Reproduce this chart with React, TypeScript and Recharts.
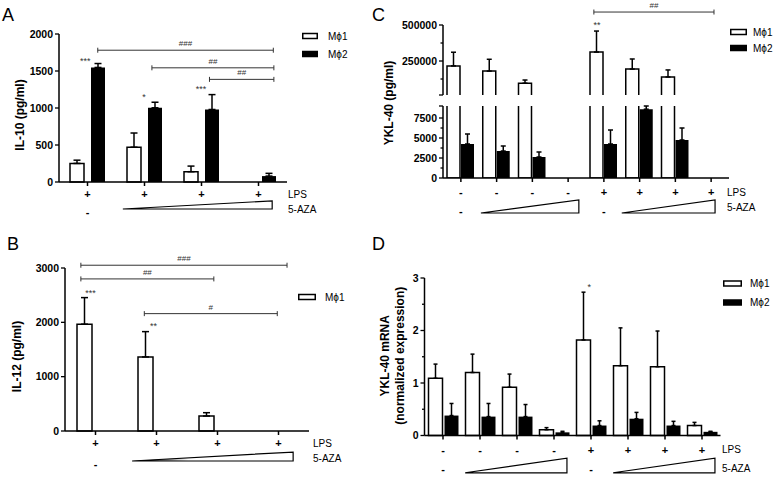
import React from 'react';
import {
  BarChart,
  Bar,
  XAxis,
  YAxis,
  ErrorBar,
  Legend,
  ReferenceLine,
  ReferenceDot,
  ReferenceArea,
} from 'recharts';

const FONT = '"Liberation Sans", Arial, Helvetica, sans-serif';
const AXIS = { stroke: '#000', strokeWidth: 1.5 };

// ---------- A: IL-10 (pg/ml) ----------
const groupsA = ['a1', 'a2', 'a3', 'a4'];
const lpsA = ['+', '+', '+', '+'];
const azaA = ['-', '', '', ''];
const il10Mphi1 = [251, 470, 139, null];
const il10Mphi1Sem = [44, 192, 76, null];
const il10Mphi2 = [1548, 1003, 980, 80];
const il10Mphi2Sem = [53, 75, 201, 37];
const il10Ticks = [0, 500, 1000, 1500, 2000];
const il10Brackets = [
  { from: 0.68, to: 3.76, y: 1781, text: '###' },
  { from: 1.63, to: 3.77, y: 1543, text: '##' },
  { from: 2.64, to: 3.77, y: 1387, text: '##' },
];
const il10Stars = [
  { x: 0.46, y: 1664, text: '***' },
  { x: 1.49, y: 1181, text: '*' },
  { x: 2.49, y: 1289, text: '***' },
];
const il10Wedges = [{ from: 1.12, to: 3.74, low: -365, high: -255 }];

// ---------- B: IL-12 (pg/ml) ----------
const groupsB = ['b1', 'b2', 'b3', 'b4'];
const lpsB = ['+', '+', '+', '+'];
const azaB = ['-', '', '', ''];
const il12Mphi1 = [1966, 1363, 276, null];
const il12Mphi1Sem = [489, 466, 61, null];
const il12Ticks = [0, 1000, 2000, 3000];
const il12Brackets = [
  { from: 0.26, to: 3.64, y: 3051, text: '###' },
  { from: 0.26, to: 2.44, y: 2799, text: '##' },
  { from: 1.3, to: 3.48, y: 2160, text: '#' },
];
const il12Stars = [
  { x: 0.42, y: 2584, text: '***' },
  { x: 1.45, y: 1966, text: '**' },
];
const il12Wedges = [{ from: 1.1, to: 3.74, low: -552, high: -387 }];

// ---------- C: YKL-40 (pg/ml), broken axis ----------
const groupsC = ['c1', 'c2', 'c3', 'c4', 'c5', 'c6', 'c7', 'c8'];
const lpsC = ['-', '-', '-', '-', '+', '+', '+', '+'];
const azaC = ['-', '', '', '', '-', '', '', ''];
const yklMphi1 = [216000, 180000, 96000, null, 312000, 194000, 139000, null];
const yklMphi1Sem = [95000, 82000, 22000, null, 146000, 70000, 49000, null];
const yklMphi2 = [4250, 3375, 2625, null, 4250, 8600, 4750, null];
const yklMphi2Sem = [1250, 625, 625, null, 1750, 400, 1500, null];
const yklUpperTicks = [14000, 125000, 250000, 375000, 500000];
const yklUpperLabeled = [250000, 500000];
const yklUpperMinor = [125000, 375000];
const yklLowerTicks = [0, 1250, 2500, 3750, 5000, 6250, 7500, 9000];
const yklLowerLabeled = [0, 2500, 5000, 7500];
const yklLowerMinor = [1250, 3750, 6250];
const yklBrackets = [{ from: 4.22, to: 7.58, y: 590000, text: '##' }];
const yklStars = [{ x: 4.31, y: 514000, text: '**' }];
const yklWedges = [
  { from: 1.06, to: 3.8, low: -4375, high: -2750 },
  { from: 5.0, to: 7.61, low: -4375, high: -2750 },
];

// ---------- D: YKL-40 mRNA ----------
const groupsD = ['d1', 'd2', 'd3', 'd4', 'd5', 'd6', 'd7', 'd8'];
const lpsD = ['-', '-', '-', '-', '+', '+', '+', '+'];
const azaD = ['-', '', '', '', '-', '', '', ''];
const mrnaMphi1 = [1.09, 1.2, 0.92, 0.11, 1.82, 1.33, 1.31, 0.19];
const mrnaMphi1Sem = [0.27, 0.35, 0.25, 0.04, 0.91, 0.72, 0.68, 0.06];
const mrnaMphi2 = [0.38, 0.36, 0.36, 0.06, 0.19, 0.32, 0.19, 0.07];
const mrnaMphi2Sem = [0.23, 0.25, 0.23, 0.02, 0.09, 0.12, 0.08, 0.01];
const mrnaTicks = [0, 0.5, 1, 1.5, 2, 2.5, 3];
const mrnaLabeled = [0, 1, 2, 3];
const mrnaMinor = [0.5, 1.5, 2.5];
const mrnaStars = [{ x: 4.45, y: 2.87, text: '*' }];
const mrnaWedges = [
  { from: 1.1, to: 3.85, low: -0.71, high: -0.43 },
  { from: 5.1, to: 7.85, low: -0.71, high: -0.43 },
];

type Num = number | null;

// pos = centre of each group on the hidden numeric axis used for annotations
function rows(groups: string[], m1: Num[], m1Sem: Num[] | null, m2: Num[] | null, m2Sem: Num[] | null) {
  return groups.map((g, i) => ({
    g,
    pos: i + 0.5,
    m1: m1[i],
    m1Err: m1Sem && m1Sem[i] != null ? [0, m1Sem[i]] : null,
    m2: m2 ? m2[i] : null,
    m2Err: m2Sem && m2Sem[i] != null ? [0, m2Sem[i]] : null,
  }));
}

// y tick: own tick line (minor ticks shorter), bold label on majors
function ValueTick(props: any) {
  const { x, y, payload, labeled, minor } = props;
  const v = payload.value;
  const ax = x + 6; // tickSize 4 + tickMargin 2
  const len = minor.includes(v) ? 2.5 : 4;
  return (
    <g>
      <line x1={ax - len} x2={ax} y1={y} y2={y} stroke="#000" strokeWidth={1.3} />
      {labeled.includes(v) && (
        <text x={x} y={y} dy={3.8} textAnchor="end" fontFamily={FONT} fontSize={10.5} fontWeight="bold" fill="#000">
          {String(v)}
        </text>
      )}
    </g>
  );
}

// x tick: LPS row and 5-AZA row signs
function SignTick(props: any) {
  const { x, y, index, lps, aza, r1, r2 } = props;
  const axisY = y - 4;
  return (
    <g fontFamily={FONT} fontSize={11} fontWeight="bold" fill="#000" textAnchor="middle">
      <text x={x} y={axisY + r1 + 4}>{lps[index]}</text>
      {aza[index] ? <text x={x} y={axisY + r2 + 4}>{aza[index]}</text> : null}
    </g>
  );
}

function RowLabels(props: any) {
  const { viewBox, dx, r1, r2 } = props;
  const x0 = viewBox.x + viewBox.width + dx;
  return (
    <g fontFamily={FONT} fontSize={10} fill="#000">
      <text x={x0} y={viewBox.y + r1 + 3.5}>LPS</text>
      <text x={x0} y={viewBox.y + r2 + 3.5}>5-AZA</text>
    </g>
  );
}

function YTitle(props: any) {
  const { viewBox, lines, xs, dy } = props;
  const cy = viewBox.y + viewBox.height / 2 + dy;
  return (
    <g>
      {lines.map((t: string, i: number) => {
        const cx = viewBox.x + xs[i];
        return (
          <text
            key={t}
            x={cx}
            y={cy}
            transform={`rotate(-90 ${cx} ${cy})`}
            textAnchor="middle"
            dominantBaseline="central"
            fontFamily={FONT}
            fontSize={12}
            fontWeight="bold"
            fill="#000"
          >
            {t}
          </text>
        );
      })}
    </g>
  );
}

// legend drawn as a small svg: open box for Mϕ1, filled box for Mϕ2
function LegendBoxes(props: any) {
  const { payload, boxW, gap, rowH } = props;
  const items = (payload || []).filter((p: any) => p.type !== 'none');
  return (
    <svg width={boxW + gap + 30} height={rowH * items.length} style={{ display: 'block' }}>
      {items.map((p: any, i: number) => {
        const cy = rowH * i + rowH / 2;
        return (
          <g key={p.value}>
            <rect x={0.75} y={cy - 2.5} width={boxW - 1.5} height={5} fill={p.color} stroke="#000" strokeWidth={1.5} />
            <text x={boxW + gap} y={cy + 3.6} fontFamily={FONT} fontSize={10} fill="#000">
              {p.value}
            </text>
          </g>
        );
      })}
    </svg>
  );
}

function legend(left: number, top: number, boxW: number, gap: number, rowH: number) {
  return (
    <Legend
      layout="vertical"
      align="center"
      verticalAlign="middle"
      wrapperStyle={{ left, top, width: 'auto', lineHeight: 0 }}
      content={<LegendBoxes boxW={boxW} gap={gap} rowH={rowH} />}
    />
  );
}

function BracketShape(p: any) {
  const { x1, y1, x2, y2 } = p;
  return (
    <path
      d={`M${x1},${y1 - 2.5}V${y1 + 2.5}M${x1},${y1}H${x2}M${x2},${y2 - 2.5}V${y2 + 2.5}`}
      stroke="#333"
      strokeWidth={1}
      fill="none"
    />
  );
}

const starShape = (text: string) => (p: any) => (
  <text x={p.cx} y={p.cy} dy={5} textAnchor="middle" fontFamily={FONT} fontSize={9} fill="#333">
    {text}
  </text>
);

const wedgeShape = (gradId?: string) => (p: any) => {
  const { x, y, width, height } = p;
  return (
    <g>
      {gradId && (
        <defs>
          <linearGradient id={gradId} x1="0" x2="1" y1="0" y2="0">
            <stop offset="0" stopColor="#000" />
            <stop offset="0.35" stopColor="#fff" />
          </linearGradient>
        </defs>
      )}
      <path
        d={`M${x},${y + height}L${x + width},${y}L${x + width},${y + height}Z`}
        fill={gradId ? `url(#${gradId})` : '#fff'}
        stroke="#000"
        strokeWidth={1.2}
      />
    </g>
  );
};

function marks(brackets: any[], stars: any[], wedges: any[], gradId?: string) {
  return [
    ...brackets.map((b, i) => (
      <ReferenceLine
        key={`br-${i}`}
        xAxisId="n"
        segment={[
          { x: b.from, y: b.y },
          { x: b.to, y: b.y },
        ]}
        ifOverflow="visible"
        shape={BracketShape}
        label={{ value: b.text, position: 'top', offset: 4, fontSize: 8, fill: '#333', fontFamily: FONT }}
      />
    )),
    ...stars.map((s, i) => (
      <ReferenceDot key={`st-${i}`} xAxisId="n" x={s.x} y={s.y} r={0} ifOverflow="visible" shape={starShape(s.text)} />
    )),
    ...wedges.map((w, i) => (
      <ReferenceArea
        key={`wd-${i}`}
        xAxisId="n"
        x1={w.from}
        x2={w.to}
        y1={w.low}
        y2={w.high}
        ifOverflow="visible"
        shape={wedgeShape(gradId ? `${gradId}-${i}` : undefined)}
      />
    )),
  ];
}

function numAxis(n: number) {
  return <XAxis xAxisId="n" dataKey="pos" type="number" domain={[0, n]} allowDataOverflow hide />;
}

function PanelA() {
  const data = rows(groupsA, il10Mphi1, il10Mphi1Sem, il10Mphi2, il10Mphi2Sem);
  return (
    <div style={{ position: 'absolute', left: 0, top: 0 }}>
      <BarChart width={390} height={230} data={data} margin={{ top: 34, right: 103, bottom: 18, left: 0 }} barSize={14} barGap={7}>
        <XAxis
          dataKey="g"
          interval={0}
          height={30}
          tickSize={4}
          tickMargin={0}
          axisLine={AXIS}
          tickLine={AXIS}
          tick={(p: any) => <SignTick {...p} lps={lpsA} aza={azaA} r1={12} r2={30} />}
          label={<RowLabels dx={1} r1={12} r2={27} />}
        />
        {numAxis(4)}
        <YAxis
          width={59}
          domain={[0, 2000]}
          ticks={il10Ticks}
          interval={0}
          tickSize={4}
          tickMargin={2}
          axisLine={AXIS}
          tickLine={false}
          tick={(p: any) => <ValueTick {...p} labeled={il10Ticks} minor={[]} />}
          label={<YTitle lines={['IL-10 (pg/ml)']} xs={[20]} dy={7} />}
        />
        <Bar dataKey="m1" name="Mϕ1" fill="#fff" stroke="#000" strokeWidth={1.5} isAnimationActive={false}>
          <ErrorBar dataKey="m1Err" width={3.5} stroke="#000" strokeWidth={1.5} />
        </Bar>
        <Bar dataKey="m2" name="Mϕ2" fill="#000" isAnimationActive={false}>
          <ErrorBar dataKey="m2Err" width={3.5} stroke="#000" strokeWidth={1.5} />
        </Bar>
        {legend(302, 27, 16, 10, 18)}
        {marks(il10Brackets, il10Stars, il10Wedges)}
      </BarChart>
    </div>
  );
}

function PanelB() {
  const data = rows(groupsB, il12Mphi1, il12Mphi1Sem, null, null);
  return (
    <div style={{ position: 'absolute', left: 0, top: 240 }}>
      <BarChart width={390} height={237} data={data} margin={{ top: 28, right: 81, bottom: 16, left: 0 }} barSize={15} barGap={7}>
        <XAxis
          dataKey="g"
          interval={0}
          height={30}
          tickSize={4}
          tickMargin={0}
          axisLine={AXIS}
          tickLine={AXIS}
          tick={(p: any) => <SignTick {...p} lps={lpsB} aza={azaB} r1={12} r2={33} />}
          label={<RowLabels dx={4} r1={12} r2={27} />}
        />
        {numAxis(4)}
        <YAxis
          width={65}
          domain={[0, 3000]}
          ticks={il12Ticks}
          interval={0}
          tickSize={4}
          tickMargin={2}
          axisLine={AXIS}
          tickLine={false}
          tick={(p: any) => <ValueTick {...p} labeled={il12Ticks} minor={[]} />}
          label={<YTitle lines={['IL-12 (pg/ml)']} xs={[17]} dy={7} />}
        />
        <Bar dataKey="m1" name="Mϕ1" fill="#fff" stroke="#000" strokeWidth={1.5} isAnimationActive={false}>
          <ErrorBar dataKey="m1Err" width={3.5} stroke="#000" strokeWidth={1.5} />
        </Bar>
        <Bar dataKey="m2" name="Mϕ2" fill="#000" legendType="none" isAnimationActive={false} />
        {legend(298, 48, 18, 9, 18)}
        {marks(il12Brackets, il12Stars, il12Wedges, 'wedgeB')}
      </BarChart>
    </div>
  );
}

function OpenBottomBar(p: any) {
  const { x, y, width, height } = p;
  if (!height || height <= 0) return null;
  return (
    <g>
      <rect x={x} y={y} width={width} height={height} fill="#fff" />
      <path d={`M${x},${y + height}V${y}H${x + width}V${y + height}`} stroke="#000" strokeWidth={1.5} fill="none" />
    </g>
  );
}

function PanelC() {
  const upper = rows(groupsC, yklMphi1, yklMphi1Sem, null, null);
  const lower = rows(groupsC, yklMphi1, null, yklMphi2, yklMphi2Sem);
  return (
    <>
      <div style={{ position: 'absolute', left: 370, top: 0 }}>
        <BarChart width={408} height={230} data={upper} margin={{ top: 25, right: 49, bottom: 135, left: 0 }} barSize={13} barGap={1}>
          <XAxis dataKey="g" hide />
          {numAxis(8)}
          <YAxis
            width={73}
            domain={[14000, 500000]}
            allowDataOverflow
            ticks={yklUpperTicks}
            interval={0}
            tickSize={4}
            tickMargin={2}
            axisLine={AXIS}
            tickLine={false}
            tick={(p: any) => <ValueTick {...p} labeled={yklUpperLabeled} minor={yklUpperMinor} />}
            label={<YTitle lines={['YKL-40 (pg/ml)']} xs={[19]} dy={43} />}
          />
          <Bar dataKey="m1" name="Mϕ1" shape={OpenBottomBar} isAnimationActive={false}>
            <ErrorBar dataKey="m1Err" width={2.5} stroke="#000" strokeWidth={1.5} />
          </Bar>
          <Bar dataKey="m2" name="Mϕ2" fill="#000" legendType="none" isAnimationActive={false} />
          {marks(yklBrackets, yklStars, [])}
        </BarChart>
      </div>
      <div style={{ position: 'absolute', left: 370, top: 0 }}>
        <BarChart width={408} height={230} data={lower} margin={{ top: 106, right: 49, bottom: 22, left: 0 }} barSize={13} barGap={1}>
          <XAxis
            dataKey="g"
            interval={0}
            height={30}
            tickSize={4}
            tickMargin={0}
            axisLine={AXIS}
            tickLine={AXIS}
            tick={(p: any) => <SignTick {...p} lps={lpsC} aza={azaC} r1={14} r2={33} />}
            label={<RowLabels dx={-2} r1={14} r2={29} />}
          />
          {numAxis(8)}
          <YAxis
            width={73}
            domain={[0, 9000]}
            allowDataOverflow
            ticks={yklLowerTicks}
            interval={0}
            tickSize={4}
            tickMargin={2}
            axisLine={AXIS}
            tickLine={false}
            tick={(p: any) => <ValueTick {...p} labeled={yklLowerLabeled} minor={yklLowerMinor} />}
          />
          <Bar dataKey="m1" name="Mϕ1" fill="#fff" stroke="#000" strokeWidth={1.5} isAnimationActive={false} />
          <Bar dataKey="m2" name="Mϕ2" fill="#000" isAnimationActive={false}>
            <ErrorBar dataKey="m2Err" width={2.5} stroke="#000" strokeWidth={1.5} />
          </Bar>
          {legend(360, 24, 17, 6, 16)}
          {marks([], [], yklWedges)}
        </BarChart>
      </div>
    </>
  );
}

function PanelD() {
  const data = rows(groupsD, mrnaMphi1, mrnaMphi1Sem, mrnaMphi2, mrnaMphi2Sem);
  return (
    <div style={{ position: 'absolute', left: 370, top: 240 }}>
      <BarChart width={408} height={237} data={data} margin={{ top: 38, right: 57.5, bottom: 11.5, left: 0 }} barSize={14} barGap={2}>
        <XAxis
          dataKey="g"
          interval={0}
          height={30}
          tickSize={4}
          tickMargin={0}
          axisLine={AXIS}
          tickLine={AXIS}
          tick={(p: any) => <SignTick {...p} lps={lpsD} aza={azaD} r1={14} r2={33} />}
          label={<RowLabels dx={1.5} r1={14} r2={33} />}
        />
        {numAxis(8)}
        <YAxis
          width={54.5}
          domain={[0, 3]}
          ticks={mrnaTicks}
          interval={0}
          tickSize={4}
          tickMargin={2}
          axisLine={AXIS}
          tickLine={false}
          tick={(p: any) => <ValueTick {...p} labeled={mrnaLabeled} minor={mrnaMinor} />}
          label={<YTitle lines={['YKL-40 mRNA', '(normalized expression)']} xs={[15, 30]} dy={-1} />}
        />
        <Bar dataKey="m1" name="Mϕ1" fill="#fff" stroke="#000" strokeWidth={1.5} isAnimationActive={false}>
          <ErrorBar dataKey="m1Err" width={2} stroke="#000" strokeWidth={1.5} />
        </Bar>
        <Bar dataKey="m2" name="Mϕ2" fill="#000" isAnimationActive={false}>
          <ErrorBar dataKey="m2Err" width={2} stroke="#000" strokeWidth={1.5} />
        </Bar>
        {legend(353, 33.5, 19, 8, 19)}
        {marks([], mrnaStars, mrnaWedges)}
      </BarChart>
    </div>
  );
}

const panelLetters = [
  { t: 'A', x: 2, y: 21 },
  { t: 'B', x: 7, y: 250 },
  { t: 'C', x: 372, y: 21 },
  { t: 'D', x: 372, y: 250 },
];

export default function App() {
  return (
    <div style={{ position: 'absolute', left: 0, top: 0, width: 778, height: 477, background: '#fff', overflow: 'hidden' }}>
      <PanelA />
      <PanelB />
      <PanelC />
      <PanelD />
      <svg width={778} height={477} style={{ position: 'absolute', left: 0, top: 0, pointerEvents: 'none' }}>
        {panelLetters.map((l) => (
          <text key={l.t} x={l.x} y={l.y} fontFamily={FONT} fontSize={18} fill="#000">
            {l.t}
          </text>
        ))}
      </svg>
    </div>
  );
}
